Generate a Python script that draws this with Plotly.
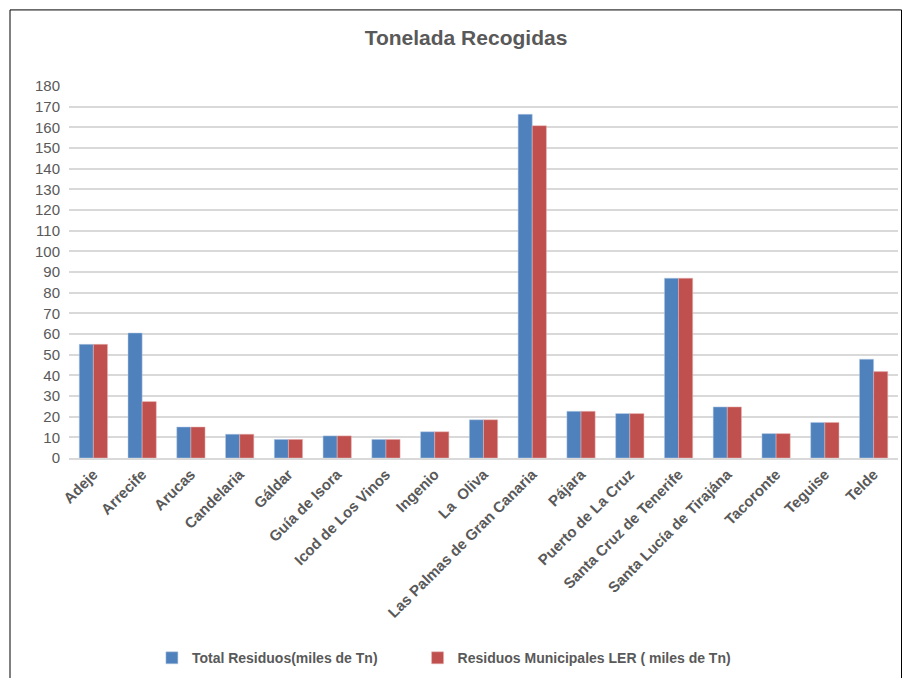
import plotly.graph_objects as go

municipios = ['Adeje', 'Arrecife', 'Arucas', 'Candelaria', 'Gáldar', 'Guía de Isora',
              'Icod de Los Vinos', 'Ingenio', 'La  Oliva', 'Las Palmas de Gran Canaria',
              'Pájara', 'Puerto de La Cruz', 'Santa Cruz de Tenerife',
              'Santa Lucía de Tirajána', 'Tacoronte', 'Teguise', 'Telde']
total_residuos = [55, 60.5, 15, 11.5, 9, 10.7, 9, 12.7, 18.5, 166.3, 22.6, 21.5, 87, 24.7, 11.8, 17.2, 47.8]
residuos_ler = [55, 27.3, 15, 11.5, 9, 10.7, 9, 12.7, 18.5, 160.8, 22.6, 21.5, 87, 24.7, 11.8, 17.2, 41.8]
y_ticks = list(range(0, 181, 10))

font = 'Liberation Sans Narrow, Arial Narrow, Liberation Sans, sans-serif'
grey = '#595959'

fig = go.Figure()
fig.add_trace(go.Bar(x=municipios, y=total_residuos,
                     name='<b>Total Residuos(miles de Tn)</b>' + '&nbsp;' * 9,
                     marker=dict(color='#4F81BD', line=dict(color='#B9CDE5', width=0.5))))
fig.add_trace(go.Bar(x=municipios, y=residuos_ler, name='<b>Residuos Municipales LER ( miles de Tn)</b>',
                     marker=dict(color='#C0504D', line=dict(color='#E6B9B8', width=0.5))))

# page body adds 8px margin; keep the figure small enough to avoid scrollbars
W, H = 894, 670
L, R, T, B = 61, 4, 78, 213
pw, ph = W - L - R, H - T - B
bottom = H - B

fig.update_layout(
    width=W, height=H,
    margin=dict(l=L, r=R, t=T, b=B),
    paper_bgcolor='white', plot_bgcolor='white',
    barmode='group', bargap=0.42, bargroupgap=0,
    font=dict(family=font, color=grey, size=14),
    title=dict(text='<b>Tonelada Recogidas</b>', x=(458 - L) / pw, xref='paper', xanchor='center',
               y=1 - 30 / H, yanchor='middle',
               font=dict(family=font, size=21, color=grey)),
    xaxis=dict(tickangle=-45, tickfont=dict(size=15, color=grey, family=font),
               showline=True, linecolor='#D9D9D9', linewidth=1.5, ticks=''),
    yaxis=dict(range=[0, 180], tickvals=y_ticks, showgrid=True, gridcolor='#D9D9D9',
               gridwidth=1.5, zeroline=False, tickfont=dict(size=15, color=grey, family=font),
               ticks='', ticklabelstandoff=8),
    legend=dict(orientation='h', x=0.1, xanchor='left', y=(bottom - 661) / ph,
                yanchor='middle', font=dict(size=14, color=grey, family=font),
                itemwidth=30, tracegroupgap=0),
    shapes=[dict(type='rect', xref='paper', yref='paper',
                 x0=(2 - L) / pw, x1=(893.5 - L) / pw,
                 y0=(bottom - 700) / ph, y1=(bottom - 0.5) / ph,
                 line=dict(color='#000000', width=1))],
)

# municipios labels in bold
fig.update_xaxes(tickvals=municipios, ticktext=['<b>%s</b>' % m for m in municipios])

fig.write_html('out.html')
